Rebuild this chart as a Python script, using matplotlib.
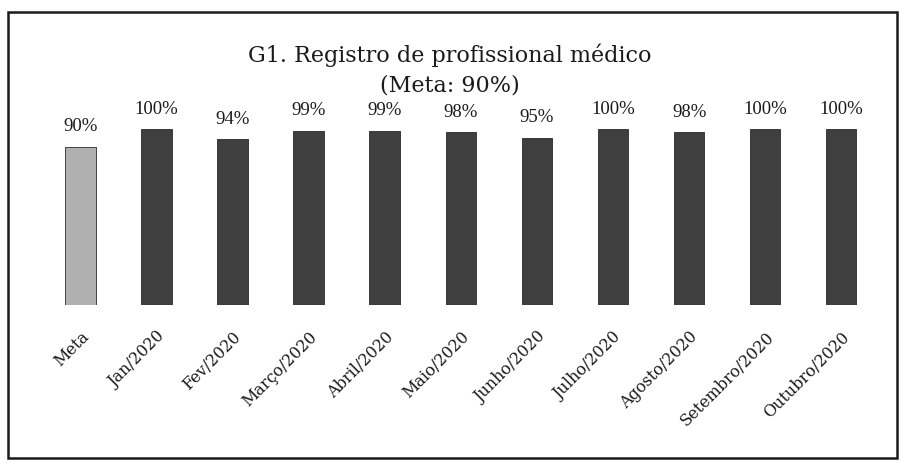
import matplotlib
matplotlib.use("Agg")
import matplotlib.pyplot as plt
from matplotlib.patches import Rectangle

categories = ["Meta", "Jan/2020", "Fev/2020", "Março/2020", "Abril/2020", "Maio/2020",
              "Junho/2020", "Julho/2020", "Agosto/2020", "Setembro/2020", "Outubro/2020"]
values = [90, 100, 94, 99, 99, 98, 95, 100, 98, 100, 100]
labels = ["90%", "100%", "94%", "99%", "99%", "98%", "95%", "100%", "98%", "100%", "100%"]
title_line1 = "G1. Registro de profissional médico"
title_line2 = "(Meta: 90%)"

plt.rcParams['font.family'] = ['DejaVu Serif']

fig = plt.figure(figsize=(9, 4.64), dpi=100)
ax = fig.add_axes([0.047, 0.340, 0.930, 0.437])

colors = ["#b0b0b0"] + ["#3f3f3f"] * (len(values) - 1)
x = list(range(len(values)))
ax.bar(x, values, width=0.4, color=colors, edgecolor="#2a2a2a", linewidth=0.6)
for xi, v, lab in zip(x, values, labels):
    ax.text(xi, v + 7, lab, ha="center", va="bottom", fontsize=13.5, color="#1a1a1a",
            family=['Liberation Serif'])

ax.set_xlim(-0.5, len(values) - 0.5)
ax.set_ylim(0, 115)
ax.set_xticks(x)
ax.set_xticklabels(categories, rotation=45, ha="right", rotation_mode="anchor",
                   fontsize=11.5, color="#1a1a1a")
ax.tick_params(axis="x", length=0, pad=16)
ax.set_yticks([])
for s in ax.spines.values():
    s.set_visible(False)

fig.text(0.5, 0.882, title_line1, ha="center", va="center", fontsize=16, color="#1a1a1a")
fig.text(0.5, 0.815, title_line2, ha="center", va="center", fontsize=16, color="#1a1a1a")

fig.patches.append(Rectangle((0.009, 0.01), 0.988, 0.962, transform=fig.transFigure,
                             fill=False, edgecolor="#1a1a1a", linewidth=1.8))

fig.savefig("out.png", dpi=100)
